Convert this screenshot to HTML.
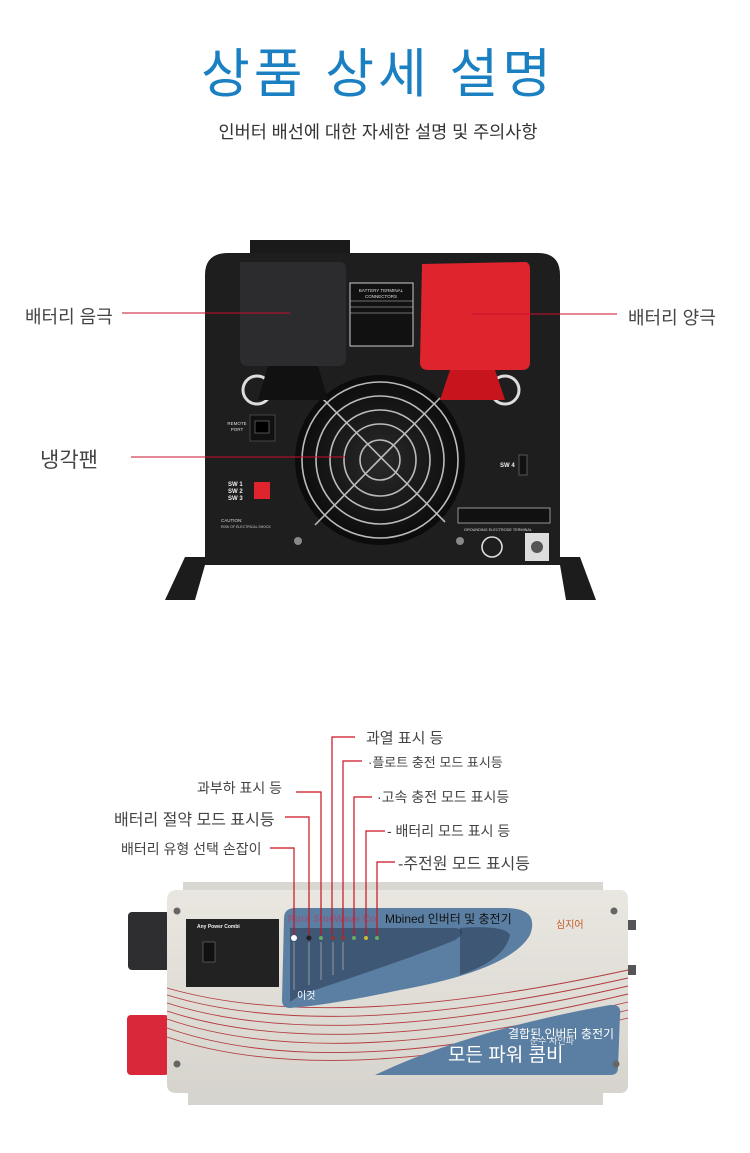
<!DOCTYPE html>
<html><head><meta charset="utf-8"><style>
html,body{margin:0;padding:0;background:#fff;}
body{width:750px;height:1153px;overflow:hidden;position:relative;font-family:"Liberation Sans","Noto Sans CJK KR",sans-serif;}
.t{position:absolute;white-space:nowrap;color:#444;}
svg{position:absolute;left:0;top:0;}
</style></head><body>
<svg width="750" height="1153" viewBox="0 0 750 1153">
<defs>
<radialGradient id="fang" cx="0.5" cy="0.5" r="0.5"><stop offset="0" stop-color="#2a2a2a"/><stop offset="1" stop-color="#0b0b0b"/></radialGradient>
<linearGradient id="body2" x1="0" y1="0" x2="0" y2="1"><stop offset="0" stop-color="#e9e7e0"/><stop offset="1" stop-color="#d6d4cd"/></linearGradient>
</defs>
<!-- TOP DEVICE -->
<rect x="250" y="240" width="100" height="20" fill="#1a1a1a"/>
<path d="M165 600 L185 557 L205 557 L205 565 L195 600 Z" fill="#1c1c1c"/>
<path d="M596 600 L580 557 L560 557 L560 565 L566 600 Z" fill="#1c1c1c"/>
<path d="M205 565 L205 275 Q205 253 228 253 L538 253 Q560 253 560 275 L560 565 Z" fill="#1e1e1f"/>
<circle cx="380" cy="460" r="85" fill="url(#fang)"/>
<g fill="none" stroke="#bbb" stroke-width="1.6">
<circle cx="380" cy="460" r="78"/><circle cx="380" cy="460" r="64"/><circle cx="380" cy="460" r="50"/><circle cx="380" cy="460" r="36"/><circle cx="380" cy="460" r="20"/>
<line x1="322" y1="398" x2="445" y2="522"/><line x1="440" y1="398" x2="315" y2="525"/>
</g>
<circle cx="257" cy="390" r="14" fill="none" stroke="#ddd" stroke-width="3"/>
<circle cx="505" cy="390" r="14" fill="none" stroke="#ddd" stroke-width="3"/>
<!-- black cap -->
<path d="M240 262 L340 262 Q346 262 346 270 L346 358 Q346 366 338 366 L248 366 Q240 366 240 358 Z" fill="#2c2c2e"/>
<path d="M268 366 L318 366 L328 400 L258 400 Z" fill="#111"/>
<!-- label plate -->
<rect x="350" y="283" width="63" height="63" fill="#111" stroke="#ccc" stroke-width="1"/>
<text x="381" y="292" font-size="4.5" fill="#ddd" text-anchor="middle">BATTERY TERMINAL</text>
<text x="381" y="298" font-size="4.5" fill="#ddd" text-anchor="middle">CONNECTORS</text>
<line x1="350" y1="301" x2="413" y2="301" stroke="#ccc" stroke-width="0.6"/>
<line x1="350" y1="307" x2="413" y2="307" stroke="#ccc" stroke-width="0.6"/>
<line x1="350" y1="313" x2="413" y2="313" stroke="#ccc" stroke-width="0.6"/>
<!-- red cap -->
<path d="M422 264 L525 262 Q530 262 530 270 L530 362 Q530 370 522 370 L428 370 Q420 370 420 362 Z" fill="#e0242d"/>
<path d="M450 370 L495 370 L505 400 L440 400 Z" fill="#c8141d"/>
<rect x="250" y="415" width="25" height="26" fill="#111" stroke="#444"/>
<rect x="255" y="421" width="14" height="12" fill="#000" stroke="#666" stroke-width="0.8"/>
<text x="237" y="425" font-size="4.5" fill="#ddd" text-anchor="middle">REMOTE</text>
<text x="237" y="431" font-size="4.5" fill="#ddd" text-anchor="middle">PORT</text>
<rect x="254" y="482" width="16" height="17" fill="#e0242d"/>
<text x="228" y="486" font-size="6" font-weight="bold" fill="#eee">SW 1</text>
<text x="228" y="493" font-size="6" font-weight="bold" fill="#eee">SW 2</text>
<text x="228" y="500" font-size="6" font-weight="bold" fill="#eee">SW 3</text>
<text x="221" y="522" font-size="4.5" fill="#ddd">CAUTION:</text>
<text x="221" y="528" font-size="3.5" fill="#ccc">RISK OF ELECTRICAL SHOCK</text>
<text x="500" y="467" font-size="6" font-weight="bold" fill="#eee">SW 4</text>
<rect x="519" y="455" width="8" height="20" fill="#111" stroke="#555"/>
<rect x="458" y="508" width="92" height="15" fill="#111" stroke="#ccc" stroke-width="0.7"/>
<text x="464" y="531" font-size="3.8" fill="#ddd">GROUNDING ELECTRODE TERMINAL</text>
<circle cx="492" cy="547" r="10" fill="none" stroke="#ddd" stroke-width="1.6"/>
<rect x="525" y="533" width="24" height="28" fill="#ddd"/>
<circle cx="537" cy="547" r="6" fill="#555"/>
<circle cx="298" cy="541" r="4" fill="#888"/><circle cx="460" cy="541" r="4" fill="#888"/>
<g stroke="#c8102e" stroke-width="1">
<line x1="122" y1="313" x2="290" y2="313"/>
<line x1="472" y1="314" x2="617" y2="314"/>
<line x1="131" y1="457" x2="345" y2="457"/>
</g>

<!-- BOTTOM DEVICE -->
<rect x="183" y="882" width="420" height="12" fill="#d8d7d2"/>
<rect x="188" y="1090" width="415" height="15" fill="#d5d4cf"/>
<rect x="128" y="912" width="42" height="58" rx="4" fill="#2e2e30"/>
<rect x="127" y="1015" width="42" height="60" rx="4" fill="#d8283a"/>
<rect x="628" y="920" width="8" height="10" fill="#555"/><rect x="628" y="965" width="8" height="10" fill="#555"/>
<path d="M167 900 Q167 890 177 890 L620 890 Q628 890 628 900 L628 1085 Q628 1093 620 1093 L177 1093 Q167 1093 167 1085 Z" fill="url(#body2)"/>
<g fill="none" stroke="#b33a3e" stroke-width="0.9">
<path d="M167 988 Q330 1035 628 970"/>
<path d="M167 995 Q330 1045 628 978"/>
<path d="M167 1003 Q330 1055 628 986"/>
<path d="M167 1011 Q330 1065 628 994"/>
<path d="M167 1019 Q330 1075 628 1002"/>
<path d="M167 1028 Q330 1085 628 1010"/>
<path d="M167 1037 Q330 1092 628 1018"/>
</g>
<path d="M284 918 Q284 908 296 908 L505 908 Q540 908 530 935 Q510 970 400 990 Q330 1005 290 1008 Q282 1008 282 1000 Z" fill="#5b7fa3"/>
<path d="M290 928 L455 928 Q470 930 455 940 Q420 955 300 995 L290 1002 Z" fill="#2a3c56" opacity="0.6"/>
<path d="M460 928 Q505 925 510 935 Q505 960 460 975 Z" fill="#2a3c56" opacity="0.6"/>
<text x="288" y="922" font-size="10" font-weight="bold" fill="#8a5a80">Pure SineWave Co</text>
<text x="385" y="923" font-size="12" fill="#111">Mbined 인버터 및 충전기</text>
<text x="297" y="999" font-size="10" fill="#fff">이것</text>
<g><circle cx="294" cy="938" r="3" fill="#fff"/><circle cx="309" cy="938" r="2.5" fill="#222"/><circle cx="321" cy="938" r="2" fill="#6a6"/><circle cx="333" cy="938" r="2" fill="#933"/><circle cx="343" cy="938" r="2" fill="#933"/><circle cx="354" cy="938" r="2" fill="#6a6"/><circle cx="366" cy="938" r="2" fill="#cb3"/><circle cx="377" cy="938" r="2" fill="#6a6"/></g>
<g stroke="#aaa" stroke-width="0.8"><line x1="294" y1="942" x2="294" y2="990"/><line x1="309" y1="942" x2="309" y2="985"/><line x1="321" y1="942" x2="321" y2="980"/><line x1="333" y1="942" x2="333" y2="975"/><line x1="343" y1="942" x2="343" y2="970"/></g>
<rect x="186" y="919" width="93" height="68" fill="#222"/>
<text x="197" y="928" font-size="5" font-weight="bold" fill="#eee">Any Power Combi</text>
<rect x="203" y="942" width="12" height="20" fill="#111" stroke="#777" stroke-width="0.6"/>
<path d="M375 1075 Q470 1030 610 1005 Q622 1004 620 1015 L618 1068 Q618 1075 610 1075 Z" fill="#5b7fa3"/>
<text x="508" y="1038" font-size="12" fill="#fff">결합된 인버터 충전기</text>
<text x="530" y="1044" font-size="9" fill="#eee">순수 사인파</text>
<text x="448" y="1061" font-size="19" fill="#fff">모든 파워 콤비</text>
<text x="556" y="928" font-size="10" fill="#c55a2a">심지어</text>
<g fill="#666"><circle cx="177" cy="911" r="3.5"/><circle cx="614" cy="911" r="3.5"/><circle cx="177" cy="1064" r="3.5"/><circle cx="616" cy="1064" r="3.5"/></g>
<g stroke="#cc1020" stroke-width="1.2" fill="none">
<polyline points="355,737 332,737 332,935"/>
<polyline points="362,761 343,761 343,935"/>
<polyline points="296,792 321,792 321,935"/>
<polyline points="372,797 354,797 354,935"/>
<polyline points="285,817 309,817 309,935"/>
<polyline points="385,831 366,831 366,935"/>
<polyline points="270,848 294,848 294,935"/>
<polyline points="395,862 377,862 377,935"/>
</g>
</svg>

<div class="t" style="left:0;width:756px;text-align:center;top:32px;font-size:53px;color:#1a80c2;letter-spacing:4px;">상품 상세 설명</div>
<div class="t" style="left:0;width:756px;text-align:center;top:119px;font-size:17.5px;color:#333;">인버터 배선에 대한 자세한 설명 및 주의사항</div>

<div class="t" style="left:25px;top:303px;font-size:18px;">배터리 음극</div>
<div class="t" style="left:628px;top:304px;font-size:18px;">배터리 양극</div>
<div class="t" style="left:40px;top:444px;font-size:21px;">냉각팬</div>

<div class="t" style="left:366px;top:727px;font-size:15px;">과열 표시 등</div>
<div class="t" style="left:368px;top:752px;font-size:13px;">·플로트 충전 모드 표시등</div>
<div class="t" style="left:197px;top:778px;font-size:14px;">과부하 표시 등</div>
<div class="t" style="left:377px;top:787px;font-size:14px;">·고속 충전 모드 표시등</div>
<div class="t" style="left:114px;top:806px;font-size:16px;">배터리 절약 모드 표시등</div>
<div class="t" style="left:387px;top:821px;font-size:14px;">- 배터리 모드 표시 등</div>
<div class="t" style="left:121px;top:839px;font-size:14px;">배터리 유형 선택 손잡이</div>
<div class="t" style="left:398px;top:850px;font-size:16px;">-주전원 모드 표시등</div>
</body></html>
